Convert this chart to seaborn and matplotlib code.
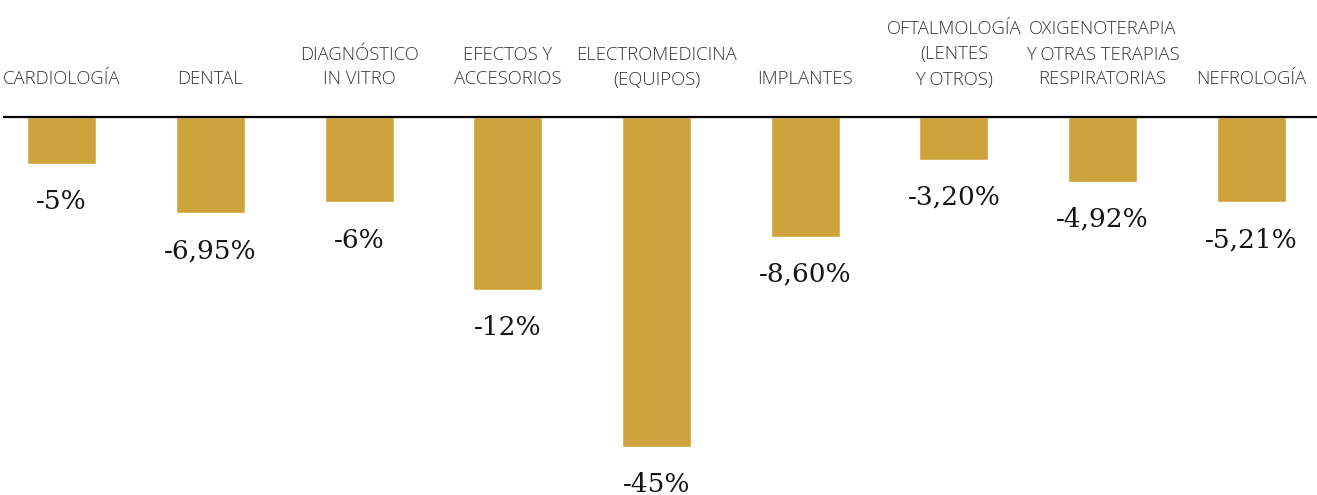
import matplotlib
matplotlib.use("Agg")
import matplotlib.pyplot as plt
import matplotlib.transforms as mtransforms
import seaborn as sns
import pandas as pd

# ---- data ----
categories = [
    "CARDIOLOGÍA",
    "DENTAL",
    "DIAGNÓSTICO\nIN VITRO",
    "EFECTOS Y\nACCESORIOS",
    "ELECTROMEDICINA\n(EQUIPOS)",
    "IMPLANTES",
    "OFTALMOLOGÍA\n(LENTES\nY OTROS)",
    "OXIGENOTERAPIA\nY OTRAS TERAPIAS\nRESPIRATORIAS",
    "NEFROLOGÍA",
]
# value labels as printed in the chart
value_labels = ["-5%", "-6,95%", "-6%", "-12%", "-45%", "-8,60%", "-3,20%", "-4,92%", "-5,21%"]
# bar lengths as drawn in the picture (in % units, scaled on the -45% bar)
bar_lengths = [-6.4, -13.2, -11.7, -23.6, -45.0, -16.4, -5.9, -8.9, -11.7]

df = pd.DataFrame({"cat": categories, "val": bar_lengths, "label": value_labels})

W, H = 1317, 495
DPI = 100
sns.set_style("white")
fig = plt.figure(figsize=(W / DPI, H / DPI), dpi=DPI)

base_px = 116.7
ax_h = (H - base_px) / H
ax = fig.add_axes([0, 0, 1, ax_h])

GOLD = "#CEA33B"
sns.barplot(data=df, x="cat", y="val", order=categories, color=GOLD,
            width=0.464, saturation=1, ax=ax)

px_per_unit = 330.0 / 45.0
ax.set_ylim(-(H - base_px) / px_per_unit, 0)
ax.set_xlim((0 - 61.7) / 148.7, (W - 61.7) / 148.7)

for s in ax.spines.values():
    s.set_visible(False)
ax.set_xticks([])
ax.set_yticks([])
ax.set_xlabel("")
ax.set_ylabel("")

# baseline
ax.axhline(0, xmin=4 / W, xmax=1.0, color="black", lw=1.6, clip_on=False, zorder=5)

# value labels under bars
for i, (v, lab) in enumerate(zip(bar_lengths, value_labels)):
    ax.annotate(lab, xy=(i, v), xytext=(0, -18), textcoords="offset points",
                ha="center", va="top", fontsize=19, family="DejaVu Serif",
                color="#151515")

# category labels on top
trans = mtransforms.blended_transform_factory(ax.transData, ax.transAxes)
y_lab = 1 + (base_px - 88.5) / (H - base_px)
for i, c in enumerate(categories):
    ax.text(i, y_lab, c, transform=trans, ha="center", va="bottom",
            fontsize=13.3, family="Open Sans", fontweight="light",
            color="#333333", linespacing=1.5, clip_on=False)

fig.savefig("out.png", dpi=DPI)
